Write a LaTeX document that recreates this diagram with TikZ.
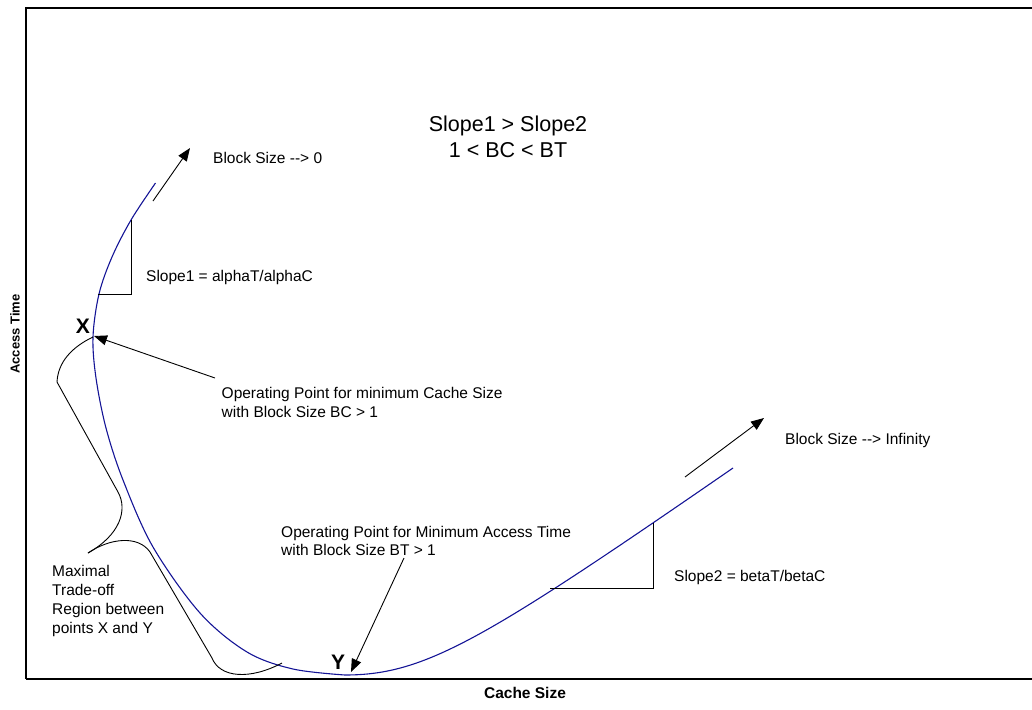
\documentclass[tikz,border=0pt]{standalone}
\usepackage{fontspec}
\setmainfont{Liberation Sans}[Ligatures=TeXOff]
\usetikzlibrary{arrows.meta}
\definecolor{curveblue}{RGB}{20,20,150}
\tikzset{
  lbl/.style={font=\fontsize{15.5}{18.7}\selectfont, inner sep=0pt, align=left},
  biglbl/.style={font=\fontsize{21.5}{26}\selectfont, inner sep=0pt, align=center},
  ptlbl/.style={font=\bfseries\fontsize{21}{24}\selectfont, inner sep=0pt},
  axlbl/.style={font=\bfseries\fontsize{15.5}{18}\selectfont, inner sep=0pt},
  frameline/.style={line width=1.4pt},
  thin/.style={line width=0.9pt},
  pointer/.style={line width=0.9pt, -{Triangle[length=13pt,width=10pt]}},
  curve/.style={line width=1.1pt, draw=curveblue}
}
\begin{document}
\begin{tikzpicture}[x=1pt,y=-1pt]
\useasboundingbox (0,0) rectangle (1032,709);
% frame
\draw[frameline] (1032,8) -- (26,8) -- (26,679);
\draw[line width=1.8pt] (25.5,679) -- (1032,679);
% axis labels
\node[axlbl] (xaxis) at (525,693) {Cache Size};
\node[axlbl, font=\bfseries\fontsize{13}{15}\selectfont, rotate=90] (yaxis) at (15,334) {Access Time};
% curve
\draw[curve] plot[smooth, tension=0.55] coordinates {
 (155.5,183) (131,220) (112,257) (99,294) (93,337) (96,378) (106,428) (123,480)
 (153,547) (200,613) (247,652) (293,669) (345,675)}
 .. controls (425,675) and (483,640.5) .. (733,468);
% points
\coordinate (X) at (94,336);
\coordinate (Y) at (351,672);
\node[ptlbl] (xl) at (83,326) {X};
\node[ptlbl] (yl) at (338,662) {Y};
% top text
\node[biglbl] (title) at (508,137) {Slope1 > Slope2\\1 < BC < BT};
% slope 1
\coordinate (s1a) at (131,220);
\coordinate (s1b) at (131,294);
\coordinate (s1c) at (98,294);
\draw[thin] (s1a) -- (s1b) -- (s1c);
\node[lbl, anchor=west] (slope1) at (146,277) {Slope1 = alphaT/alphaC};
% slope 2
\coordinate (s2a) at (653,523);
\coordinate (s2b) at (653,588);
\coordinate (s2c) at (550,588);
\draw[thin] (s2a) -- (s2b) -- (s2c);
\node[lbl, anchor=west] (slope2) at (674,577) {Slope2 = betaT/betaC};
% block size arrows
\coordinate (a1s) at (153,201);
\coordinate (a1e) at (190,148);
\draw[pointer] (a1s) -- (a1e);
\node[lbl, anchor=west] (bs0) at (213,158) {Block Size --> 0};
\coordinate (a2s) at (685,477);
\coordinate (a2e) at (764,418);
\draw[pointer] (a2s) -- (a2e);
\node[lbl, anchor=west] (bsinf) at (785,440) {Block Size --> Infinity};
% operating point X
\node[lbl, anchor=west] (opx) at (221.5,402.5) {Operating Point for minimum Cache Size\\with Block Size BC > 1};
\coordinate (opxs) at (215,378);
\draw[pointer] (opxs) -- (X);
% operating point Y
\node[lbl, anchor=west] (opy) at (281,541) {Operating Point for Minimum Access Time\\with Block Size BT > 1};
\coordinate (opys) at (404,558);
\draw[pointer] (opys) -- (Y);
% brace
\coordinate (tip) at (88,553);
\draw[thin] (93,337) .. controls (72,347) and (58,362) .. (57,382)
  -- (118,492) .. controls (128,510) and (120,535) .. (tip);
\draw[thin] (tip) .. controls (110,538) and (138,535) .. (150,552)
  -- (212,658) .. controls (220,678) and (250,680) .. (282,663);
\node[lbl, anchor=west] (region) at (52,601) {Maximal\\Trade-off\\Region between\\points X and Y};
\end{tikzpicture}
\end{document}
